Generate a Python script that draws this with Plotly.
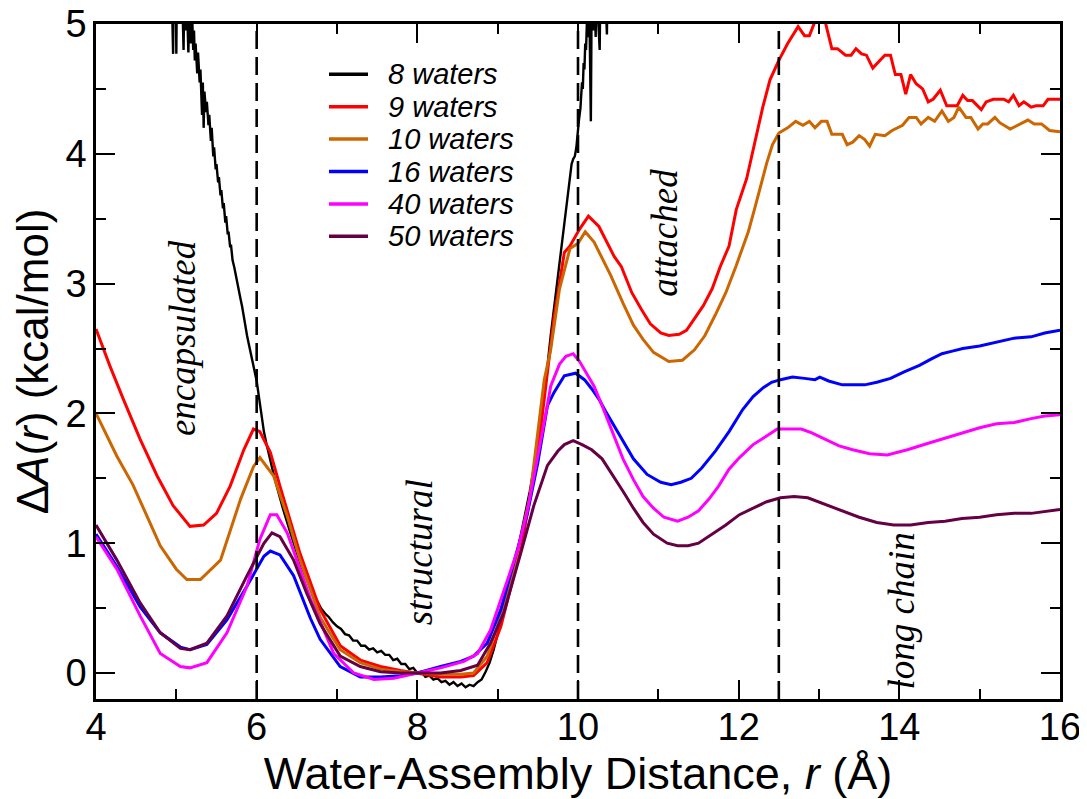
import plotly.graph_objects as go

# ---------------- data ----------------
names = ["8 waters", "9 waters", "10 waters", "16 waters", "40 waters", "50 waters"]
colors = ["#000000", "#ff0000", "#cc6600", "#0000ff", "#ff00ff", "#660044"]

r_8 = [4.93, 4.96, 4.97, 4.99, 5.00, 5.01, 5.04, 5.07, 5.09, 5.10, 5.12, 5.13, 5.15, 5.16, 5.18, 5.19,
       5.20, 5.21, 5.22, 5.23, 5.24, 5.26, 5.27, 5.29, 5.30, 5.32, 5.33, 5.34, 5.35, 5.37, 5.38, 5.40,
       5.41, 5.43, 5.44, 5.46, 5.47, 5.49, 5.50, 5.52, 5.53, 5.55, 5.56, 5.58, 5.59, 5.61, 5.62, 5.64,
       5.65, 5.67, 5.68, 5.70, 5.72, 5.74, 5.76, 5.78, 5.80, 5.82, 5.84, 5.86, 5.88, 5.90, 5.92, 5.94,
       5.96, 5.98, 6.00, 6.03, 6.06, 6.09, 6.12, 6.16, 6.20, 6.25, 6.33, 6.42, 6.54, 6.67, 6.80,
       6.85, 6.90, 6.95, 7.00, 7.05, 7.10, 7.15, 7.20, 7.25, 7.30, 7.35, 7.40, 7.45, 7.50, 7.55, 7.60,
       7.65, 7.70, 7.75, 7.80, 7.85, 7.90, 7.95, 8.00, 8.05, 8.10, 8.15, 8.20, 8.25, 8.30, 8.35, 8.40,
       8.45, 8.50, 8.55, 8.60, 8.65, 8.70, 8.75, 8.80, 8.85, 8.90, 8.95, 9.00, 9.05, 9.10, 9.15, 9.20,
       9.30, 9.40, 9.50, 9.60, 9.66, 9.72, 9.79, 9.85, 9.88, 9.90, 9.92, 9.94, 9.96, 9.98, 10.00, 10.01,
       10.03, 10.04, 10.05, 10.06, 10.07, 10.08, 10.09, 10.10, 10.11, 10.13, 10.14, 10.16, 10.17, 10.19,
       10.20, 10.22, 10.23, 10.27, 10.28, 10.32, 10.33, 10.36, 10.37, 10.45]
a_8 = [5.60, 4.77, 5.60, 5.50, 4.77, 5.50, 5.40, 5.30, 4.80, 5.25, 4.95, 5.20, 4.78, 5.10, 4.85, 5.05,
       5.00, 4.80, 4.95, 4.72, 4.85, 4.62, 4.78, 4.55, 4.65, 4.30, 4.55, 4.20, 4.48, 4.32, 4.40, 4.22,
       4.30, 4.10, 4.20, 3.98, 4.05, 3.88, 3.92, 3.78, 3.82, 3.68, 3.72, 3.58, 3.62, 3.47, 3.52, 3.38,
       3.40, 3.28, 3.30, 3.18, 3.13, 3.06, 3.00, 2.95, 2.88, 2.82, 2.74, 2.67, 2.60, 2.54, 2.48, 2.42,
       2.36, 2.30, 2.25, 2.12, 1.98, 1.86, 1.77, 1.66, 1.56, 1.44, 1.26, 1.08, 0.85, 0.65, 0.50,
       0.46, 0.43, 0.39, 0.36, 0.34, 0.30, 0.29, 0.25, 0.25, 0.21, 0.21, 0.18, 0.19, 0.16, 0.17, 0.14,
       0.14, 0.10, 0.11, 0.07, 0.07, 0.03, 0.04, 0.00, 0.01, -0.03, -0.02, -0.05, -0.04, -0.07, -0.06, -0.09,
       -0.07, -0.10, -0.08, -0.11, -0.09, -0.10, -0.07, -0.05, 0.01, 0.08, 0.18, 0.29, 0.42, 0.55, 0.68, 0.80,
       1.10, 1.40, 1.76, 2.25, 2.60, 2.90, 3.24, 3.55, 3.72, 3.80, 3.92, 3.96, 3.98, 4.05, 4.20, 4.25,
       4.35, 4.50, 4.55, 4.50, 4.70, 4.65, 4.85, 4.80, 5.00, 4.90, 5.20, 4.25, 5.20, 4.95,
       5.30, 4.90, 5.30, 4.80, 5.40, 5.10, 5.40, 4.92, 5.50, 6.00]

r_9 = [4.00, 4.17, 4.34, 4.55, 4.76, 4.96, 5.17, 5.34, 5.50, 5.67, 5.84, 5.96, 6.04, 6.17, 6.29, 6.46,
       6.54, 6.79, 7.04, 7.29, 7.54, 7.79, 8.00, 8.29, 8.54, 8.70, 8.87, 9.04, 9.20, 9.29, 9.50, 9.60,
       9.70, 9.83, 9.90, 10.02, 10.13, 10.26, 10.37, 10.45, 10.54, 10.67, 10.79, 10.90, 11.03, 11.13,
       11.26, 11.35, 11.45, 11.56, 11.67, 11.77, 11.88, 11.97, 12.10, 12.16, 12.22, 12.30, 12.39, 12.46,
       12.50, 12.61, 12.74, 12.82, 12.88, 12.95, 13.08, 13.16, 13.23, 13.33, 13.40, 13.46, 13.53, 13.59,
       13.67, 13.76, 13.82, 13.89, 13.95, 14.02, 14.08, 14.14, 14.21, 14.29, 14.36, 14.42, 14.51, 14.59,
       14.72, 14.79, 14.85, 14.91, 15.02, 15.08, 15.17, 15.30, 15.36, 15.42, 15.49, 15.55, 15.64, 15.70,
       15.79, 15.85, 16.00]
a_9 = [2.65, 2.37, 2.11, 1.80, 1.52, 1.29, 1.13, 1.14, 1.23, 1.44, 1.72, 1.88, 1.86, 1.70, 1.44, 1.08,
       0.92, 0.49, 0.21, 0.10, 0.05, 0.02, 0.00, -0.03, -0.03, -0.02, 0.08, 0.36, 0.75, 0.95, 1.70, 2.20,
       2.73, 3.24, 3.29, 3.42, 3.52, 3.44, 3.31, 3.21, 3.13, 2.93, 2.80, 2.69, 2.62, 2.60,
       2.61, 2.64, 2.73, 2.83, 2.96, 3.13, 3.29, 3.57, 3.81, 3.98, 4.13, 4.36, 4.57, 4.67,
       4.72, 4.85, 4.98, 4.91, 4.91, 5.02, 5.01, 4.81, 4.81, 4.76, 4.76, 4.81, 4.77, 4.76,
       4.66, 4.72, 4.76, 4.76, 4.61, 4.61, 4.46, 4.61, 4.54, 4.50, 4.40, 4.42, 4.49, 4.37,
       4.37, 4.45, 4.41, 4.41, 4.34, 4.40, 4.42, 4.42, 4.40, 4.45, 4.37, 4.40, 4.36, 4.37,
       4.37, 4.42, 4.42]

r_10 = [4.00, 4.26, 4.46, 4.63, 4.80, 5.00, 5.13, 5.30, 5.55, 5.80, 5.96, 6.04, 6.21, 6.38, 6.54, 6.79,
        7.04, 7.29, 7.54, 7.79, 8.00, 8.29, 8.54, 8.70, 8.87, 9.04, 9.20, 9.40, 9.58, 9.66, 9.77, 9.90,
        10.00, 10.09, 10.20, 10.30, 10.41, 10.56, 10.69, 10.81, 10.94, 11.13, 11.30, 11.45, 11.58, 11.71,
        11.84, 11.97, 12.12, 12.20, 12.27, 12.35, 12.42, 12.50, 12.61, 12.71, 12.80, 12.88, 12.95, 13.03,
        13.10, 13.16, 13.29, 13.35, 13.42, 13.50, 13.57, 13.63, 13.70, 13.82, 13.91, 14.04, 14.12, 14.21,
        14.27, 14.36, 14.44, 14.53, 14.61, 14.68, 14.74, 14.83, 14.89, 14.98, 15.04, 15.10, 15.19, 15.25,
        15.38, 15.47, 15.60, 15.68, 15.77, 15.87, 16.00]
a_10 = [2.00, 1.67, 1.45, 1.22, 0.98, 0.80, 0.72, 0.72, 0.87, 1.34, 1.59, 1.66, 1.52, 1.21, 0.87, 0.43,
        0.18, 0.08, 0.03, 0.01, 0.00, -0.01, -0.01, 0.00, 0.13, 0.44, 0.80, 1.35, 2.26, 2.49, 2.96, 3.27,
        3.31, 3.40, 3.32, 3.19, 3.06, 2.85, 2.68, 2.57, 2.47, 2.40, 2.41, 2.49, 2.60, 2.76,
        2.93, 3.14, 3.40, 3.58, 3.75, 3.93, 4.07, 4.16, 4.20, 4.25, 4.22, 4.25, 4.20, 4.25,
        4.25, 4.15, 4.15, 4.07, 4.09, 4.14, 4.11, 4.06, 4.15, 4.14, 4.18, 4.22, 4.28, 4.28,
        4.23, 4.28, 4.25, 4.33, 4.25, 4.28, 4.36, 4.28, 4.28, 4.19, 4.23, 4.23, 4.28, 4.24,
        4.19, 4.22, 4.26, 4.23, 4.23, 4.18, 4.17]

r_16 = [4.00, 4.26, 4.55, 4.80, 5.05, 5.17, 5.38, 5.63, 5.88, 6.09, 6.17, 6.29, 6.46, 6.54, 6.67, 6.79,
        7.04, 7.29, 7.54, 7.79, 8.00, 8.29, 8.54, 8.70, 8.87, 9.04, 9.20, 9.37, 9.50, 9.62, 9.70, 9.83,
        9.97, 10.08, 10.17, 10.26, 10.34, 10.52, 10.69, 10.86, 11.03, 11.16, 11.28, 11.41, 11.54, 11.71,
        11.88, 12.05, 12.18, 12.31, 12.41, 12.52, 12.67, 12.82, 12.95, 13.01, 13.12, 13.29, 13.42, 13.57,
        13.72, 13.89, 14.06, 14.25, 14.40, 14.53, 14.66, 14.79, 15.00, 15.21, 15.43, 15.64, 15.81, 16.00]
a_16 = [1.07, 0.82, 0.51, 0.31, 0.20, 0.18, 0.22, 0.41, 0.67, 0.90, 0.94, 0.91, 0.75, 0.62, 0.42, 0.26,
        0.05, -0.03, -0.03, -0.02, 0.00, 0.05, 0.09, 0.13, 0.23, 0.49, 0.84, 1.23, 1.62, 2.06, 2.16, 2.29,
        2.31, 2.26, 2.19, 2.11, 2.02, 1.83, 1.65, 1.53, 1.47, 1.45, 1.47, 1.50, 1.58, 1.71,
        1.86, 2.03, 2.13, 2.20, 2.24, 2.26, 2.28, 2.27, 2.26, 2.28, 2.25, 2.22, 2.22, 2.22,
        2.24, 2.27, 2.32, 2.37, 2.42, 2.46, 2.48, 2.50, 2.52, 2.55, 2.58, 2.59, 2.62, 2.64]

r_40 = [4.00, 4.26, 4.55, 4.80, 5.05, 5.17, 5.38, 5.63, 5.88, 6.04, 6.17, 6.25, 6.38, 6.50, 6.67, 6.96,
        7.21, 7.46, 7.71, 8.00, 8.29, 8.58, 8.75, 8.91, 9.08, 9.25, 9.37, 9.50, 9.60, 9.66, 9.77, 9.85,
        9.94, 10.02, 10.13, 10.20, 10.30, 10.43, 10.56, 10.69, 10.81, 10.94, 11.07, 11.24, 11.37, 11.50,
        11.63, 11.75, 11.88, 12.01, 12.18, 12.31, 12.48, 12.65, 12.78, 12.91, 13.08, 13.25, 13.42, 13.63,
        13.85, 14.10, 14.36, 14.57, 14.78, 15.00, 15.21, 15.43, 15.64, 15.81, 16.00]
a_40 = [1.05, 0.80, 0.44, 0.15, 0.05, 0.04, 0.08, 0.31, 0.67, 1.03, 1.22, 1.22, 1.08, 0.87, 0.57, 0.15,
        0.00, -0.05, -0.04, 0.00, 0.04, 0.09, 0.15, 0.33, 0.64, 0.95, 1.25, 1.66, 2.00, 2.21, 2.38, 2.44,
        2.46, 2.40, 2.29, 2.21, 2.06, 1.85, 1.65, 1.49, 1.36, 1.27, 1.20, 1.17, 1.20, 1.25,
        1.34, 1.44, 1.57, 1.66, 1.76, 1.81, 1.88, 1.88, 1.88, 1.85, 1.80, 1.75, 1.72, 1.69,
        1.68, 1.72, 1.77, 1.81, 1.85, 1.89, 1.92, 1.93, 1.96, 1.98, 1.99]

r_50 = [4.00, 4.26, 4.55, 4.80, 5.05, 5.17, 5.38, 5.63, 5.88, 6.09, 6.19, 6.29, 6.46, 6.62, 6.79, 7.04,
        7.29, 7.54, 7.79, 8.00, 8.29, 8.54, 8.75, 8.91, 9.08, 9.29, 9.45, 9.62, 9.75, 9.83, 9.94, 10.05,
        10.17, 10.30, 10.43, 10.56, 10.69, 10.81, 10.94, 11.11, 11.24, 11.37, 11.50, 11.67, 11.84, 12.01,
        12.18, 12.35, 12.52, 12.69, 12.86, 13.08, 13.29, 13.50, 13.72, 13.93, 14.14, 14.36, 14.57, 14.78,
        15.00, 15.21, 15.43, 15.64, 16.00]
a_50 = [1.14, 0.87, 0.54, 0.31, 0.19, 0.18, 0.23, 0.44, 0.75, 1.00, 1.08, 1.05, 0.87, 0.62, 0.38, 0.13,
        0.05, 0.01, 0.00, 0.00, 0.00, 0.02, 0.06, 0.23, 0.47, 0.93, 1.29, 1.60, 1.71, 1.76, 1.79, 1.76,
        1.72, 1.65, 1.53, 1.40, 1.27, 1.16, 1.07, 1.00, 0.98, 0.98, 1.00, 1.07, 1.14, 1.22,
        1.27, 1.32, 1.35, 1.36, 1.35, 1.30, 1.25, 1.20, 1.16, 1.14, 1.14, 1.16, 1.17, 1.19,
        1.20, 1.22, 1.23, 1.23, 1.26]

series_r = [r_8, r_9, r_10, r_16, r_40, r_50]
series_a = [a_8, a_9, a_10, a_16, a_40, a_50]
line_widths = [2.4, 3, 3, 3, 3, 3]

region_bounds = [6, 10, 12.5]
region_labels = ["encapsulated", "structural", "attached", "long chain"]
x_ticks = [4, 6, 8, 10, 12, 14, 16]
y_ticks = [0, 1, 2, 3, 4, 5]

# ---------------- figure ----------------
fig = go.Figure()
for name, col, rr, aa, lw in zip(names, colors, series_r, series_a, line_widths):
    fig.add_trace(go.Scatter(x=rr, y=aa, mode="lines", name=name,
                             line=dict(color=col, width=lw), showlegend=False))

for xb in region_bounds:
    fig.add_shape(type="line", xref="x", yref="paper", x0=xb, x1=xb, y0=0, y1=1,
                  line=dict(color="black", width=2.6, dash="18px,8px"), layer="above")

# region labels (rotated, serif italic)
label_pos = [(5.07, 2.58), (8.02, 0.93), (11.08, 3.39), (14.03, 0.48)]
for txt, (lx, ly) in zip(region_labels, label_pos):
    fig.add_annotation(x=lx, y=ly, xref="x", yref="y", text="<i>" + txt + "</i>",
                       showarrow=False, textangle=-90, xanchor="center", yanchor="middle",
                       font=dict(family="Liberation Serif, Times New Roman, serif", size=37, color="black"))

# legend (drawn manually to match compact row spacing); pixel targets are window coordinates
page_off = 8  # default page body margin
plot_l, plot_w, plot_t, plot_h = 96, 964, 24, 675
for i, (name, col) in enumerate(zip(names, colors)):
    ypx = 74.3 + 32.4 * i
    yp = 1 - (ypx - plot_t) / plot_h
    fig.add_shape(type="line", xref="paper", yref="paper",
                  x0=(329 - plot_l) / plot_w, x1=(368 - plot_l) / plot_w, y0=yp, y1=yp,
                  line=dict(color=col, width=3.5))
    fig.add_annotation(x=(386 - plot_l) / plot_w, y=yp, xref="paper", yref="paper",
                       text="<i>" + name + "</i>", showarrow=False, xanchor="left", yanchor="middle",
                       font=dict(family="Liberation Sans, Arial, sans-serif", size=29, color="black"))

axis_common = dict(showline=True, linecolor="black", linewidth=2.6, mirror="ticks",
                   ticks="inside", ticklen=19, tickwidth=2.4, tickcolor="black",
                   showgrid=False, zeroline=False, automargin=False, ticklabeloverflow="allow",
                   tickfont=dict(family="Liberation Sans, Arial, sans-serif", size=38, color="black"))

fig.update_xaxes(range=[4, 16], tickvals=x_ticks, ticktext=[str(v) for v in x_ticks],
                 minor=dict(dtick=1, tick0=4, ticks="inside", ticklen=10, tickwidth=2.4, tickcolor="black"),
                 title=dict(text="Water-Assembly Distance, <i>r</i> (Å)", standoff=24,
                            font=dict(family="Liberation Sans, Arial, sans-serif", size=45, color="black")),
                 ticklabelstandoff=-7, **axis_common)
fig.update_yaxes(range=[-0.2, 5], tickvals=y_ticks, ticktext=[str(v) for v in y_ticks],
                 minor=dict(dtick=0.5, tick0=0, ticks="inside", ticklen=10, tickwidth=2.4, tickcolor="black"),
                 title=dict(text="Δ<i>A</i>(<i>r</i>) (kcal/mol)", standoff=8,
                            font=dict(family="Liberation Sans, Arial, sans-serif", size=44, color="black")),
                 ticklabelstandoff=-1, **axis_common)

fig.update_layout(width=1087 - page_off, height=799 - page_off,
                  plot_bgcolor="white", paper_bgcolor="white",
                  margin=dict(l=plot_l - page_off, r=27, t=plot_t - page_off, b=100), showlegend=False)

fig.write_html("out.html")
